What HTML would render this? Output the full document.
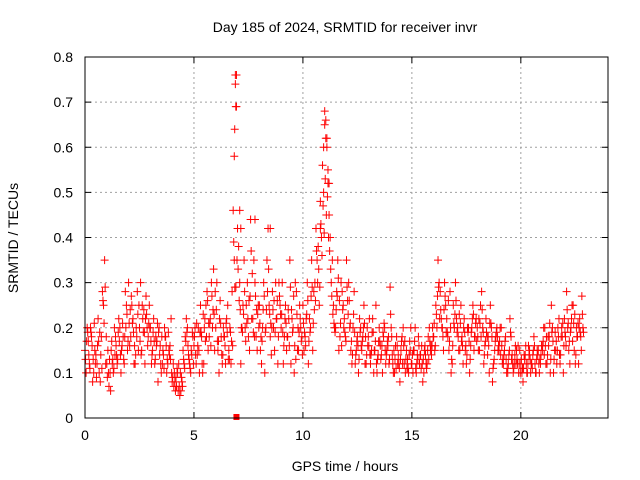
<!DOCTYPE html>
<html><head><meta charset="utf-8">
<style>
body{margin:0;background:#fff;}
svg{display:block;font-family:"Liberation Sans",sans-serif;}
</style></head>
<body>
<svg id="chart" width="640" height="480" viewBox="0 0 640 480" xmlns="http://www.w3.org/2000/svg">
<rect width="640" height="480" fill="#fff"/>
<text x="345" y="32" font-size="14" text-anchor="middle">Day 185 of 2024, SRMTID for receiver invr</text>
<text transform="translate(18,238) rotate(-90)" font-size="14" text-anchor="middle">SRMTID / TECUs</text>
<text x="345" y="471" font-size="14" text-anchor="middle">GPS time / hours</text>
<g id="grid"></g>
<g id="ticks"></g>
<g id="marks"></g>
<rect x="85" y="57" width="523" height="361" fill="none" stroke="#000" stroke-width="1"/>
</svg>
<script>
const xTicks=[0,5,10,15,20];
const yTicks=[0,0.1,0.2,0.3,0.4,0.5,0.6,0.7,0.8];
const yTickLabels=["0","0.1","0.2","0.3","0.4","0.5","0.6","0.7","0.8"];
const seriesAStart=0, seriesAStep=0.1;
const seriesA=[.15,.2,.12,.18,.1,.14,.22,.08,.28,.35,
.12,.07,.15,.1,.18,.13,.2,.16,.12,.25,
.3,.18,.22,.12,.28,.2,.15,.24,.27,.18,
.2,.15,.12,.17,.2,.1,.14,.18,.12,.16,
.08,.1,.07,.12,.06,.15,.18,.2,.12,.14,
.16,.12,.2,.25,.1,.22,.28,.18,.3,.33,
.2,.15,.26,.12,.18,.22,.15,.12,.46,.76,
.42,.3,.2,.35,.25,.18,.44,.22,.3,.15,
.25,.12,.3,.2,.42,.18,.28,.15,.22,.3,
.2,.12,.25,.18,.35,.22,.1,.28,.15,.2,
.25,.18,.3,.22,.35,.28,.42,.38,.48,.56,
.68,.6,.45,.3,.25,.2,.35,.18,.28,.22,
.35,.3,.15,.2,.12,.18,.22,.15,.25,.12,
.18,.12,.22,.15,.1,.2,.14,.18,.12,.16,
.29,.14,.1,.18,.12,.15,.2,.1,.13,.17,
.12,.15,.1,.18,.14,.08,.16,.12,.2,.14,
.18,.25,.35,.28,.2,.3,.22,.15,.1,.25,
.3,.2,.15,.18,.22,.12,.2,.16,.25,.18,
.2,.15,.28,.12,.22,.18,.25,.08,.15,.2,
.15,.2,.12,.18,.1,.22,.14,.12,.15,.1,
.12,.08,.14,.1,.15,.12,.18,.1,.15,.12,
.15,.2,.12,.18,.25,.1,.15,.2,.12,.18,
.22,.28,.15,.2,.25,.12,.18,.22,.27];
const seriesBStart=0.05, seriesBStep=0.1;
const seriesB=[.1,.17,.2,.08,.15,.12,.1,.18,.25,.12,
.15,.1,.12,.2,.14,.22,.1,.18,.28,.15,
.16,.25,.12,.2,.15,.3,.22,.12,.2,.25,
.12,.22,.18,.08,.16,.12,.2,.1,.15,.22,
.12,.06,.1,.05,.08,.12,.22,.14,.1,.18,
.2,.14,.1,.18,.12,.25,.15,.22,.2,.15,
.3,.1,.18,.2,.12,.25,.2,.28,.35,.69,
.38,.12,.25,.2,.3,.15,.22,.35,.18,.25,
.15,.2,.1,.35,.25,.14,.2,.3,.12,.25,
.3,.18,.15,.22,.12,.2,.3,.15,.25,.18,
.15,.22,.12,.2,.15,.3,.35,.25,.4,.5,
.62,.52,.4,.35,.2,.28,.15,.3,.25,.18,
.26,.2,.12,.28,.15,.1,.2,.18,.12,.2,
.22,.15,.1,.25,.14,.16,.1,.2,.15,.12,
.2,.1,.16,.12,.08,.18,.12,.15,.1,.2,
.1,.2,.14,.12,.16,.1,.12,.18,.15,.2,
.15,.2,.3,.22,.15,.25,.18,.28,.12,.2,
.22,.15,.25,.12,.15,.2,.1,.2,.15,.22,
.15,.25,.2,.16,.18,.1,.2,.12,.18,.15,
.2,.12,.15,.1,.14,.18,.1,.16,.12,.15,
.1,.14,.12,.16,.1,.14,.12,.15,.1,.16,
.2,.12,.18,.1,.2,.15,.12,.22,.18,.1,
.18,.2,.12,.25,.15,.2,.12,.18,.2];
const seriesCStart=0.025, seriesCStep=0.1;
const seriesC=[.13,.19,.11,.16,.21,.09,.17,.14,.26,.29,
.09,.13,.17,.11,.16,.19,.14,.21,.18,.23,
.21,.27,.19,.14,.23,.17,.25,.19,.23,.21,
.17,.19,.13,.21,.14,.18,.11,.16,.19,.13,
.09,.08,.11,.07,.09,.13,.17,.16,.11,.19,
.18,.21,.15,.19,.23,.17,.26,.21,.27,.23,
.24,.17,.21,.14,.16,.19,.13,.17,.39,.29,
.33,.24,.19,.28,.21,.26,.37,.19,.27,.23,
.21,.17,.27,.24,.33,.21,.24,.19,.26,.27,
.23,.16,.21,.24,.29,.19,.16,.23,.19,.17,
.21,.16,.26,.19,.29,.24,.37,.33,.43,.47,
.53,.49,.37,.27,.21,.24,.31,.21,.24,.19,
.29,.26,.17,.23,.14,.16,.19,.17,.21,.14,
.16,.14,.19,.17,.13,.17,.16,.21,.14,.18,
.23,.12,.13,.16,.11,.17,.16,.13,.11,.15,
.14,.17,.12,.16,.11,.13,.14,.15,.17,.16,
.21,.23,.29,.24,.18,.27,.19,.17,.13,.21,
.26,.18,.21,.16,.19,.14,.17,.19,.23,.21,
.18,.21,.24,.14,.19,.16,.21,.11,.17,.18,
.17,.16,.14,.13,.12,.19,.12,.14,.13,.12,
.13,.11,.16,.12,.13,.11,.16,.13,.12,.14,
.17,.16,.14,.21,.19,.13,.17,.18,.14,.21,
.19,.24,.17,.22,.21,.14,.21,.19,.23];
const seriesDStart=0.075, seriesDStep=0.1;
const seriesD=[.17,.14,.19,.13,.12,.16,.19,.11,.21,.18,
.1,.06,.13,.14,.12,.17,.15,.13,.2,.17,
.24,.21,.16,.18,.25,.14,.19,.22,.16,.2,
.14,.17,.16,.19,.12,.15,.18,.13,.14,.1,
.07,.09,.06,.1,.07,.11,.19,.13,.15,.12,
.14,.16,.19,.12,.2,.18,.21,.16,.24,.28,
.17,.22,.14,.18,.21,.13,.19,.16,.29,.35,
.26,.2,.23,.17,.22,.27,.32,.18,.24,.2,
.18,.24,.19,.28,.23,.2,.26,.22,.18,.23,
.19,.22,.18,.16,.24,.27,.13,.2,.22,.14,
.19,.23,.17,.27,.21,.26,.3,.29,.36,.41,
.45,.4,.33,.23,.19,.27,.26,.16,.2,.17,
.23,.21,.14,.19,.17,.13,.16,.2,.18,.16,
.14,.19,.15,.12,.17,.13,.19,.15,.17,.13,
.18,.15,.11,.14,.13,.12,.17,.11,.14,.12,
.15,.11,.13,.14,.12,.15,.11,.13,.16,.18,
.16,.27,.22,.2,.24,.19,.26,.2,.16,.23,
.19,.23,.17,.2,.16,.19,.13,.22,.18,.17,
.22,.18,.19,.17,.14,.21,.18,.13,.19,.16,
.14,.13,.17,.11,.15,.13,.11,.12,.16,.1,
.11,.13,.1,.14,.12,.15,.1,.14,.13,.16,
.14,.18,.16,.13,.17,.19,.15,.14,.2,.16,
.16,.21,.19,.17,.23,.18,.2,.15,.19];
const extraHours=[6.85,6.87,6.9,6.92,6.95,7.1,7.15,10.95,11.0,11.05,11.1,11.15,11.2,10.8,7.8,8.5];
const extraValues=[.58,.64,.74,.69,.76,.46,.42,.6,.65,.66,.62,.55,.52,.42,.44,.42];
const zeroHours=[6.95];
const zeroValues=[0];

const X0=85,X1=608,Y0=418,Y1=57,XMAX=24,YMAX=0.8;
const xs=h=>X0+(X1-X0)*h/XMAX;
const ys=v=>Y0-(Y0-Y1)*v/YMAX;
const NS="http://www.w3.org/2000/svg";
const grid=document.getElementById('grid'),ticks=document.getElementById('ticks'),marks=document.getElementById('marks');
function mk(tag,attrs,parent){const e=document.createElementNS(NS,tag);for(const k in attrs)e.setAttribute(k,attrs[k]);parent.appendChild(e);return e;}
xTicks.forEach(t=>{
  const x=xs(t);
  if(t>0){const g=mk('line',{x1:x,x2:x,y1:Y1,y2:Y0,stroke:'#a0a0a0','stroke-dasharray':'2,3'},grid);
  
  }
  mk('line',{x1:x,x2:x,y1:Y0,y2:Y0-6,stroke:'#000'},ticks);
  mk('line',{x1:x,x2:x,y1:Y1,y2:Y1+6,stroke:'#000'},ticks);
  const l=mk('text',{x:x,y:Y0+22,'font-size':14,'text-anchor':'middle'},ticks);
  l.textContent=t;
  
  
});
yTicks.forEach((t,i)=>{
  const y=ys(t);
  if(t>0&&t<YMAX){const g=mk('line',{x1:X0,x2:X1,y1:y,y2:y,stroke:'#a0a0a0','stroke-dasharray':'2,3'},grid);
  
  }
  mk('line',{x1:X0,x2:X0+6,y1:y,y2:y,stroke:'#000'},ticks);
  mk('line',{x1:X1,x2:X1-6,y1:y,y2:y,stroke:'#000'},ticks);
  const l=mk('text',{x:X0-12,y:y+5,'font-size':14,'text-anchor':'end'},ticks);
  l.textContent=yTickLabels[i];
  
  
});
function plus(h,v){
  const x=xs(h),y=ys(v);
  const p=mk('path',{d:`M${x-4} ${y}h8M${x} ${y-4}v8`,stroke:'#ff0000','stroke-width':1,fill:'none'},marks);
  
  
}
seriesA.forEach((v,i)=>plus(seriesAStart+i*seriesAStep,v));
seriesB.forEach((v,i)=>plus(seriesBStart+i*seriesBStep,v));
seriesC.forEach((v,i)=>plus(seriesCStart+i*seriesCStep,v));
seriesD.forEach((v,i)=>plus(seriesDStart+i*seriesDStep,v));
extraHours.forEach((h,i)=>plus(h,extraValues[i]));
zeroHours.forEach((h,i)=>{
  const r=mk('rect',{x:xs(h)-3,y:ys(zeroValues[i])-4,width:6,height:6,fill:'#ff0000'},marks);
  
  
});
</script>
</body></html>
